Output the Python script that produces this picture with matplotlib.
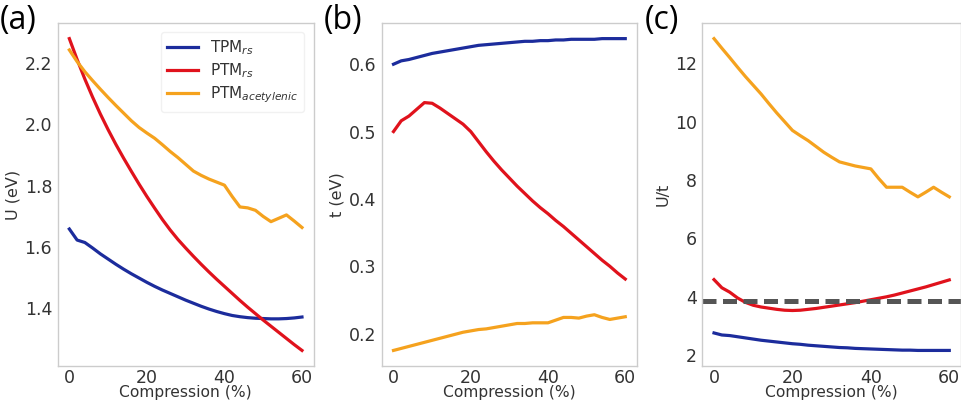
import matplotlib
matplotlib.use("Agg")
import matplotlib.pyplot as plt

compression = list(range(0, 61, 2))

# panel (a): U (eV)
u_tpm_rs = [1.659, 1.623, 1.615, 1.597, 1.578, 1.561, 1.544, 1.528, 1.513, 1.499, 1.485,
            1.472, 1.460, 1.449, 1.438, 1.427, 1.417, 1.407, 1.398, 1.390, 1.383,
            1.377, 1.373, 1.370, 1.368, 1.367, 1.366, 1.366, 1.367, 1.369, 1.372]
u_ptm_rs = [2.280, 2.212, 2.148, 2.089, 2.034, 1.983, 1.935, 1.890, 1.847, 1.805, 1.765,
            1.727, 1.690, 1.656, 1.625, 1.597, 1.570, 1.544, 1.519, 1.495, 1.472,
            1.449, 1.426, 1.404, 1.383, 1.362, 1.342, 1.322, 1.302, 1.282, 1.263]
u_ptm_acet = [2.243, 2.205, 2.172, 2.143, 2.115, 2.088, 2.062, 2.037, 2.012, 1.990, 1.972,
              1.955, 1.934, 1.912, 1.892, 1.870, 1.848, 1.834, 1.822, 1.812, 1.802,
              1.765, 1.731, 1.728, 1.720, 1.700, 1.683, 1.694, 1.705, 1.685, 1.664]

# panel (b): t (eV)
t_tpm_rs = [0.600, 0.605, 0.607, 0.610, 0.613, 0.616, 0.618, 0.620, 0.622, 0.624, 0.626,
            0.628, 0.629, 0.630, 0.631, 0.632, 0.633, 0.634, 0.634, 0.635, 0.635,
            0.636, 0.636, 0.637, 0.637, 0.637, 0.637, 0.638, 0.638, 0.638, 0.638]
t_ptm_rs = [0.500, 0.516, 0.523, 0.533, 0.543, 0.542, 0.535, 0.527, 0.519, 0.511, 0.500,
            0.485, 0.470, 0.456, 0.443, 0.431, 0.419, 0.408, 0.397, 0.387, 0.378,
            0.368, 0.359, 0.349, 0.339, 0.329, 0.319, 0.309, 0.300, 0.290, 0.281]
t_ptm_acet = [0.175, 0.178, 0.181, 0.184, 0.187, 0.190, 0.193, 0.196, 0.199, 0.202, 0.204,
              0.206, 0.207, 0.209, 0.211, 0.213, 0.215, 0.215, 0.216, 0.216, 0.216,
              0.220, 0.224, 0.224, 0.223, 0.226, 0.228, 0.224, 0.221, 0.223, 0.225]

# panel (c): U/t
ut_tpm_rs = [2.75, 2.68, 2.66, 2.62, 2.58, 2.54, 2.50, 2.47, 2.44, 2.41, 2.38,
             2.36, 2.33, 2.31, 2.29, 2.27, 2.25, 2.24, 2.22, 2.21, 2.20,
             2.19, 2.18, 2.17, 2.16, 2.16, 2.15, 2.15, 2.15, 2.15, 2.15]
ut_ptm_rs = [4.58, 4.30, 4.15, 3.95, 3.80, 3.70, 3.64, 3.60, 3.56, 3.53, 3.52,
             3.53, 3.56, 3.59, 3.63, 3.67, 3.71, 3.75, 3.79, 3.84, 3.89,
             3.94, 3.99, 4.05, 4.12, 4.19, 4.26, 4.33, 4.41, 4.49, 4.57]
ut_ptm_acet = [12.85, 12.52, 12.20, 11.87, 11.55, 11.25, 10.95, 10.62, 10.30, 10.00, 9.70,
               9.52, 9.35, 9.15, 8.95, 8.78, 8.62, 8.55, 8.48, 8.43, 8.38,
               8.05, 7.75, 7.75, 7.75, 7.58, 7.42, 7.58, 7.75, 7.58, 7.42]
ut_threshold = 3.84

labels = [r"TPM$_{rs}$", r"PTM$_{rs}$", r"PTM$_{acetylenic}$"]
colors = ["#1c2c9c", "#e0121c", "#f5a21e"]

plt.rcParams["font.family"] = "DejaVu Sans"
plt.rcParams["mathtext.fontset"] = "dejavusans"

fig = plt.figure(figsize=(9.62, 4.04), dpi=100)
positions = [[0.060, 0.094, 0.266, 0.849],
             [0.397, 0.094, 0.265, 0.849],
             [0.730, 0.094, 0.269, 0.849]]
panels = [
    ("(a)", "U (eV)", [u_tpm_rs, u_ptm_rs, u_ptm_acet]),
    ("(b)", "t (eV)", [t_tpm_rs, t_ptm_rs, t_ptm_acet]),
    ("(c)", "U/t", [ut_tpm_rs, ut_ptm_rs, ut_ptm_acet]),
]

axes = []
for pos, (tag, ylab, series) in zip(positions, panels):
    ax = fig.add_axes(pos)
    for ys, lab, col in zip(series, labels, colors):
        ax.plot(compression, ys, color=col, lw=2.3, label=lab)
    ax.set_xlabel("Compression (%)", fontsize=11.2, color="#333333", labelpad=-1)
    ax.set_ylabel(ylab, fontsize=11.5, color="#333333", labelpad=3)
    ax.set_xticks([0, 20, 40, 60])
    ax.tick_params(length=0, labelsize=12.5, labelcolor="#333333", pad=4)
    ax.tick_params(axis="x", pad=2)
    for s in ax.spines.values():
        s.set_color("#cccccc")
        s.set_linewidth(1.0)
    fig.text(pos[0] - 0.060, 0.99, tag, fontsize=23, family="Open Sans",
             va="top", ha="left")
    axes.append(ax)

axes[2].axhline(ut_threshold, color="#555555", lw=3.6, dashes=(2.8, 1.3))

leg = axes[0].legend(loc="upper right", fontsize=11, frameon=True,
                     handlelength=2.0, borderaxespad=0.6, labelspacing=0.3)
leg.get_frame().set_edgecolor("#eeeeee")
for t in leg.get_texts():
    t.set_color("#333333")

fig.savefig("out.png", dpi=100)
